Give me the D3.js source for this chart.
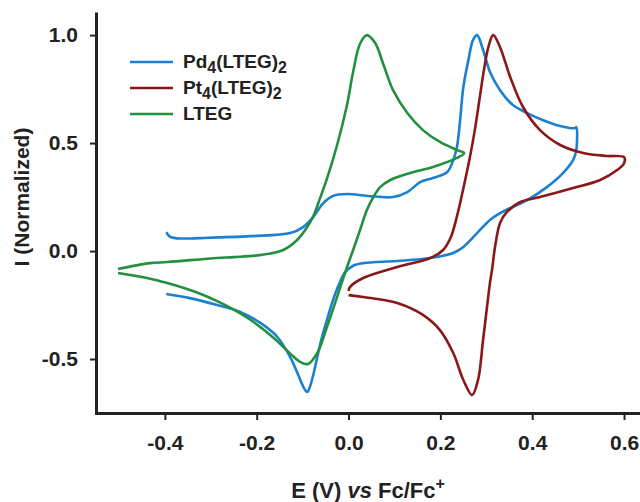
<!DOCTYPE html>
<html>
<head>
<meta charset="utf-8">
<script src="https://cdn.jsdelivr.net/npm/d3@7"></script>
<style>
  body { margin: 0; background: #fff; }
  svg { display: block; font-family: "Liberation Sans", Arial, sans-serif; font-weight: bold; }
</style>
</head>
<body>
<svg id="cv" width="640" height="502"></svg>
<script>
// cyclic voltammograms, normalized current vs potential

var xTicks = [-0.4, -0.2, 0.0, 0.2, 0.4, 0.6];
var yTicks = [-0.5, 0.0, 0.5, 1.0];

// Pd4(LTEG)2
var pdE = [-0.397,-0.388,-0.360,-0.323,-0.214,-0.127,-0.099,-0.077,-0.055,-0.034,-0.003,0.042,0.097,0.128,0.156,0.184,0.215,0.228,0.236,0.243,0.250,0.261,0.271,0.280,0.293,0.309,0.330,0.358,0.389,0.424,0.461,0.493,0.496,0.496,0.489,0.467,0.432,0.389,0.330,0.308,0.280,0.250,0.228,0.178,0.106,0.032,0.010,-0.008,-0.022,-0.035,-0.047,-0.058,-0.068,-0.077,-0.084,-0.090,-0.097,-0.105,-0.127,-0.155,-0.192,-0.236,-0.286,-0.345,-0.397];
var pdI = [0.088,0.065,0.058,0.060,0.069,0.083,0.111,0.157,0.222,0.255,0.264,0.255,0.250,0.273,0.319,0.338,0.366,0.421,0.481,0.606,0.759,0.884,0.977,1.000,0.931,0.824,0.745,0.676,0.639,0.606,0.579,0.569,0.574,0.468,0.421,0.361,0.296,0.236,0.176,0.144,0.083,0.019,-0.009,-0.032,-0.046,-0.056,-0.068,-0.100,-0.160,-0.235,-0.319,-0.400,-0.490,-0.575,-0.628,-0.653,-0.635,-0.597,-0.491,-0.398,-0.333,-0.282,-0.250,-0.218,-0.199];

// Pt4(LTEG)2
var ptE = [0.000,0.003,0.032,0.106,0.178,0.206,0.222,0.236,0.250,0.263,0.275,0.285,0.295,0.304,0.315,0.330,0.352,0.380,0.417,0.461,0.511,0.563,0.600,0.600,0.585,0.548,0.489,0.417,0.374,0.345,0.330,0.319,0.313,0.308,0.293,0.282,0.269,0.250,0.228,0.199,0.162,0.106,0.032,0.000];
var ptI = [-0.185,-0.167,-0.125,-0.074,-0.032,0.005,0.060,0.160,0.290,0.420,0.560,0.700,0.840,0.940,1.000,0.944,0.806,0.667,0.560,0.491,0.454,0.440,0.435,0.407,0.375,0.329,0.292,0.250,0.227,0.181,0.130,0.019,-0.079,-0.148,-0.412,-0.597,-0.667,-0.597,-0.472,-0.366,-0.296,-0.241,-0.213,-0.204];

// LTEG
var ltE = [-0.502,-0.432,-0.395,-0.286,-0.251,-0.193,-0.142,-0.112,-0.090,-0.077,-0.062,-0.047,-0.025,-0.003,0.010,0.025,0.040,0.058,0.075,0.097,0.128,0.162,0.199,0.236,0.252,0.236,0.184,0.134,0.091,0.069,0.054,0.040,0.025,0.010,-0.007,-0.025,-0.047,-0.068,-0.088,-0.105,-0.127,-0.164,-0.214,-0.251,-0.286,-0.323,-0.360,-0.395,-0.432,-0.502];
var ltI = [-0.083,-0.056,-0.051,-0.032,-0.028,-0.019,0.005,0.051,0.111,0.160,0.245,0.335,0.490,0.680,0.830,0.960,1.000,0.963,0.870,0.745,0.639,0.560,0.505,0.468,0.454,0.431,0.389,0.361,0.329,0.296,0.250,0.190,0.097,0.005,-0.097,-0.213,-0.352,-0.472,-0.523,-0.514,-0.475,-0.400,-0.318,-0.270,-0.232,-0.198,-0.170,-0.148,-0.128,-0.102];

var seriesNames = ["Pd4(LTEG)2", "Pt4(LTEG)2", "LTEG"];
var colors = ["#1c80d2", "#8a1818", "#23903f"];

var svg = d3.select("#cv");
var ink = "#222";

var x = d3.scaleLinear().domain([-0.55, 0.65]).range([96, 647]);
var y = d3.scaleLinear().domain([-0.75, 1.1]).range([413, 13.5]);

var series = [
    { name: seriesNames[0], color: colors[0], pts: d3.zip(pdE, pdI) },
    { name: seriesNames[1], color: colors[1], pts: d3.zip(ptE, ptI) },
    { name: seriesNames[2], color: colors[2], pts: d3.zip(ltE, ltI) }
];

var line = d3.line()
    .x(function(d) { return x(d[0]); })
    .y(function(d) { return y(d[1]); })
    .curve(d3.curveCatmullRom.alpha(0.5));

svg.append("g")
    .selectAll("path")
    .data(series)
    .enter().append("path")
    .attr("fill", "none")
    .attr("stroke", function(d) { return d.color; })
    .attr("stroke-width", 2.6)
    .attr("stroke-linejoin", "round")
    .attr("d", function(d) { return line(d.pts); });

function fmt(d) { return d.toFixed(1); }

var xAxis = svg.append("g")
    .attr("transform", "translate(0,413)")
    .call(d3.axisBottom(x).tickValues(xTicks).tickFormat(fmt).tickSize(7).tickSizeOuter(0).tickPadding(15));

var yAxis = svg.append("g")
    .attr("transform", "translate(96,0)")
    .call(d3.axisLeft(y).tickValues(yTicks).tickFormat(fmt).tickSize(6).tickSizeOuter(0).tickPadding(12));

[xAxis, yAxis].forEach(function(g) {
    g.select(".domain").attr("stroke", ink).attr("stroke-width", 3).attr("stroke-linecap", "square");
    g.selectAll(".tick line").attr("stroke", ink).attr("stroke-width", 2);
    g.selectAll(".tick text")
        .attr("fill", ink)
        .style("font-size", "21px")
        .style("font-family", "'Liberation Sans', Arial, sans-serif")
        .style("font-weight", "bold");
});

// axis titles
var xt = svg.append("text")
    .attr("x", 368)
    .attr("y", 498)
    .attr("text-anchor", "middle")
    .attr("fill", ink)
    .style("font-size", "22px");
xt.append("tspan").text("E (V) ");
xt.append("tspan").style("font-style", "italic").text("vs");
xt.append("tspan").text(" Fc/Fc");
xt.append("tspan").attr("dy", -9).style("font-size", "16px").text("+");

svg.append("text")
    .attr("transform", "translate(29,197) rotate(-90)")
    .attr("text-anchor", "middle")
    .attr("fill", ink)
    .style("font-size", "21px")
    .text("I (Normalized)");

// legend
var legend = svg.append("g");
var rows = legend.selectAll("g")
    .data(series)
    .enter().append("g")
    .attr("transform", function(d, i) { return "translate(130," + (62 + i * 26) + ")"; });

rows.append("line")
    .attr("x1", 0).attr("x2", 43)
    .attr("stroke", function(d) { return d.color; })
    .attr("stroke-width", 2.6);

rows.each(function(d) {
    var t = d3.select(this).append("text")
        .attr("x", 53)
        .attr("y", 6)
        .attr("fill", ink)
        .style("font-size", "19px");
    var m = d.name.match(/^(\w\w)(\d)(\(LTEG\))(\d)$/);
    if (m) {
        t.append("tspan").text(m[1]);
        t.append("tspan").attr("dy", 5).style("font-size", "16px").text(m[2]);
        t.append("tspan").attr("dy", -5).text(m[3]);
        t.append("tspan").attr("dy", 5).style("font-size", "16px").text(m[4]);
    } else {
        t.text(d.name);
    }
});
</script>
</body>
</html>
